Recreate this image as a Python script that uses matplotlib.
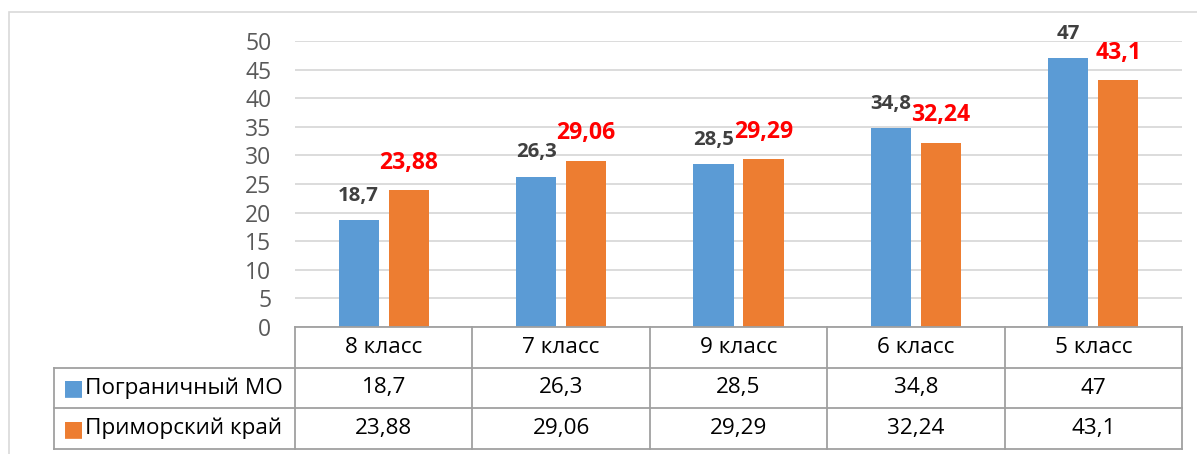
import matplotlib.pyplot as plt
from matplotlib.patches import Rectangle

plt.rcParams['font.family'] = ['Open Sans', 'DejaVu Sans']

# data
categories = ["8 класс", "7 класс", "9 класс", "6 класс", "5 класс"]
series_names = ["Пограничный МО", "Приморский край"]
pogranichny = [18.7, 26.3, 28.5, 34.8, 47]
primorsky = [23.88, 29.06, 29.29, 32.24, 43.1]
y_ticks = [0, 5, 10, 15, 20, 25, 30, 35, 40, 45, 50]

blue = "#5B9BD5"
orange = "#ED7D31"
W, H = 1197, 454


def fmt(v):
    return f"{v:g}".replace(".", ",")


def box(x0, y0, x1, y1):
    # pixel box (top-left origin) -> figure fraction rect
    return [x0 / W, 1 - y1 / H, (x1 - x0) / W, (y1 - y0) / H]


fig = plt.figure(figsize=(W / 100, H / 100), dpi=100)

# outer chart frame
fig.add_artist(Rectangle((9 / W, -0.1), 1.2, 1 - 12 / H + 0.1, transform=fig.transFigure,
                         fill=False, edgecolor="#d9d9d9", linewidth=1.2))

# bars
ax = fig.add_axes(box(295, 41, 1182, 327))
x = range(len(categories))
bw = 0.226
off = 0.141
ax.bar([i - off for i in x], pogranichny, bw, color=blue, zorder=3)
ax.bar([i + off for i in x], primorsky, bw, color=orange, zorder=3)
ax.set_xlim(-0.5, 4.5)
ax.set_ylim(0, 50)
ax.set_yticks(y_ticks)
ax.set_xticks([])
ax.tick_params(axis="y", length=0, pad=17, labelsize=16.5, labelcolor="#595959")
ax.grid(axis="y", color="#d9d9d9", linewidth=1.3, zorder=0)
for s in ax.spines.values():
    s.set_visible(False)

for i in x:
    ax.annotate(fmt(pogranichny[i]), (i - off, pogranichny[i]), xytext=(0, 17.5),
                textcoords="offset points", ha="center", va="center",
                fontsize=14.7, fontweight="bold", color="#404040", zorder=4)
    ax.annotate(fmt(primorsky[i]), (i + off, primorsky[i]), xytext=(0, 20),
                textcoords="offset points", ha="center", va="center",
                fontsize=16.6, fontweight="bold", color="#ff0000", zorder=4)

# data table
tb = fig.add_axes(box(54, 327, 1182, 449))
left = -0.5 - (295 - 54) / ((1182 - 295) / 5)
tb.set_xlim(left, 4.5)
tb.set_ylim(3, 0)
tb.axis("off")
lc = "#a0a0a0"
lw = 1.3
tb.plot([-0.5, 4.5], [0, 0], color=lc, lw=lw, clip_on=False)
for yy in (1, 2, 3):
    tb.plot([left, 4.5], [yy, yy], color=lc, lw=lw, clip_on=False)
tb.plot([left, left], [1, 3], color=lc, lw=lw, clip_on=False)
for xx in [i - 0.5 for i in range(6)]:
    tb.plot([xx, xx], [0, 3], color=lc, lw=lw, clip_on=False)

ts = 16.2
for i, c in enumerate(categories):
    tb.text(i, 0.5, c, ha="center", va="center", fontsize=ts)
    tb.text(i, 1.5, fmt(pogranichny[i]), ha="center", va="center", fontsize=ts)
    tb.text(i, 2.5, fmt(primorsky[i]), ha="center", va="center", fontsize=ts)

for r, (name, col) in enumerate(zip(series_names, [blue, orange])):
    tb.text(left + 0.05, 1.5 + r, "\u25A0", color=col, ha="left", va="center", fontsize=16,
            family="DejaVu Sans")
    tb.text(left + 0.175, 1.5 + r, name, ha="left", va="center", fontsize=ts)

fig.savefig("out.png", dpi=100)
